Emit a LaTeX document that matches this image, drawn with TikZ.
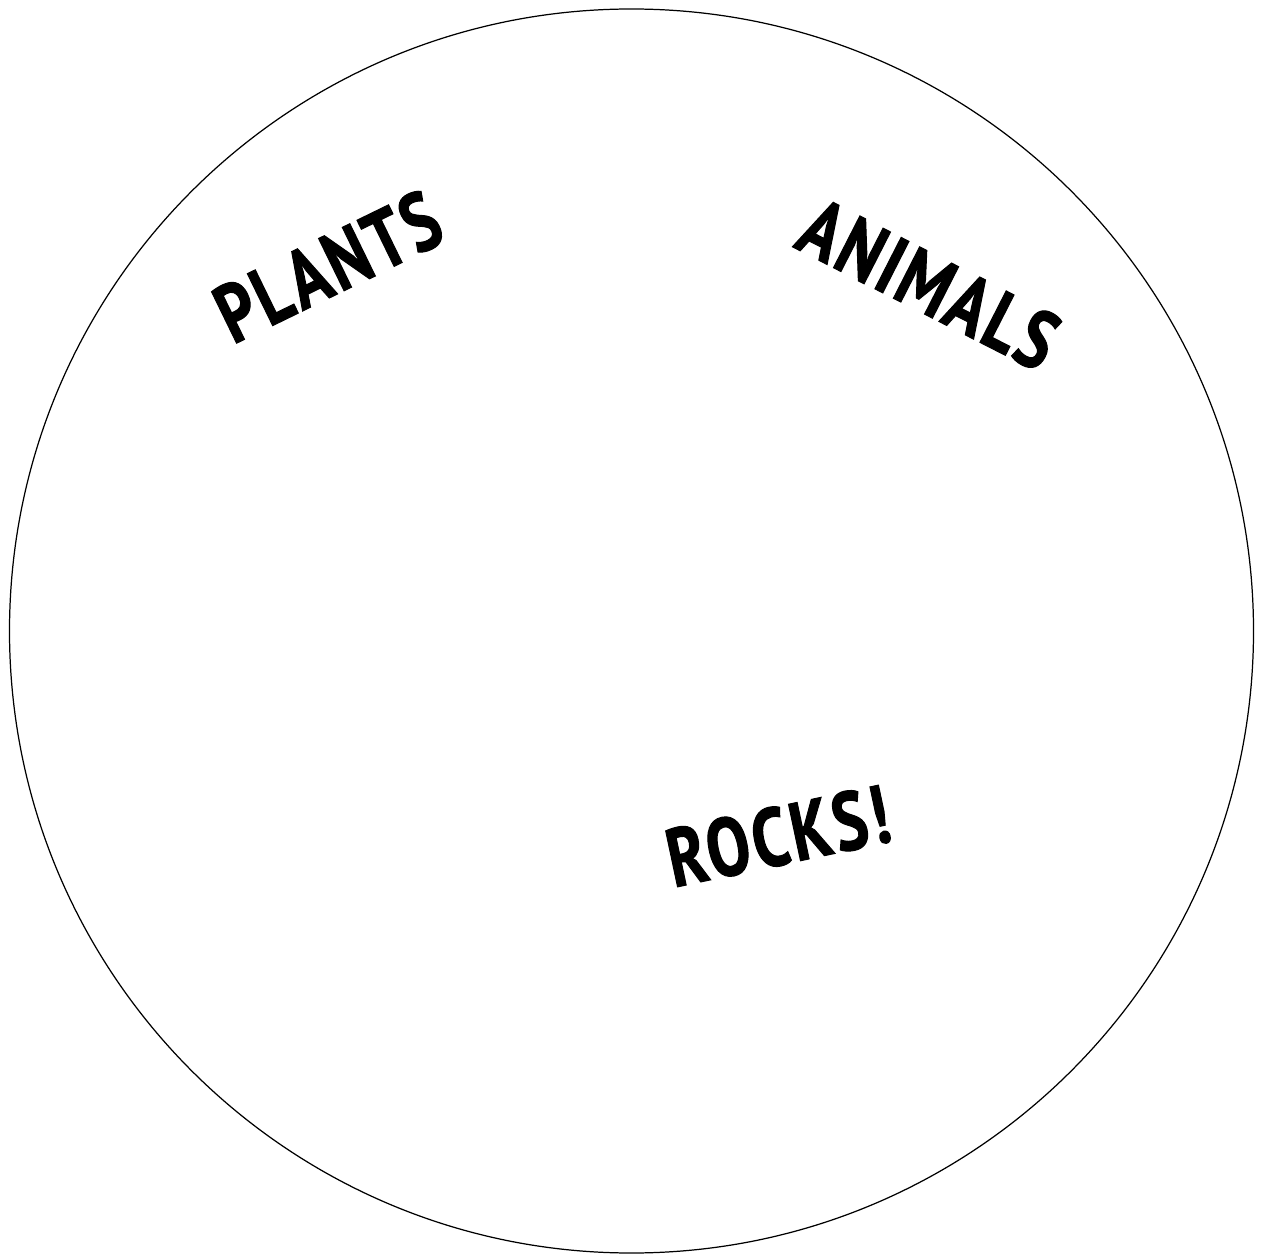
\documentclass[tikz,border=0pt]{standalone}
\usepackage{fontspec}
\newfontfamily\labelfont{PT Sans}[FakeStretch=0.78, FakeBold=1.2, LetterSpace=4]
\usetikzlibrary{positioning}

\begin{document}
\begin{tikzpicture}[
  rim/.style={draw, line width=0.7pt},
  word/.style={font=\labelfont\bfseries\fontsize{47}{52}\selectfont, inner sep=0pt}]
  \useasboundingbox (0,0) rectangle (25.22,-25.12);
  \node[rim, circle, minimum size=24.88cm, inner sep=0pt] (disc) at (12.63,-12.62) {};
  \node[word, rotate=26] (plants) at (6.56,-5.33) {PLANTS};
  \node[word, rotate=-27] (animals) at (18.58,-5.68) {ANIMALS};
  \node[word, rotate=12] (rocks) at (15.56,-16.72) {ROCKS!};
\end{tikzpicture}
\end{document}
